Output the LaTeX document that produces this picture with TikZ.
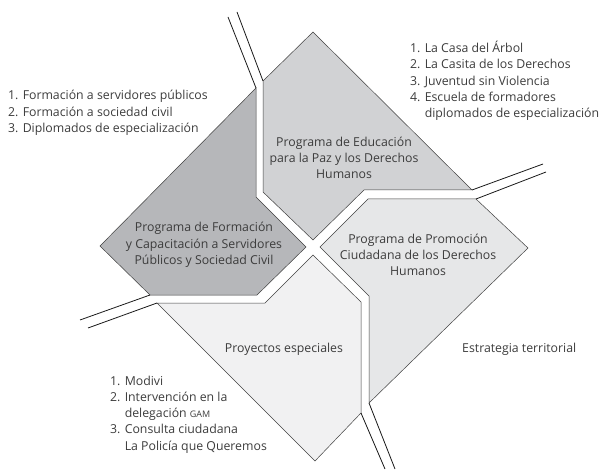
\documentclass[tikz,border=0pt]{standalone}
\usepackage{fontspec}
\setmainfont{Open Sans}
\definecolor{cForm}{HTML}{B6B7BA}
\definecolor{cEdu}{HTML}{D1D2D4}
\definecolor{cProm}{HTML}{E6E7E8}
\definecolor{cProy}{HTML}{F1F1F2}
\definecolor{txt}{HTML}{3C3C3C}
\begin{document}
\begin{tikzpicture}[x=1pt,y=-1pt,
  region/.style={draw=black!75,line width=0.5pt,line join=miter},
  road/.style={draw=black!90,line width=0.8pt},
  lbl/.style={inner sep=0pt,text=txt,font=\fontsize{12.3}{16.3}\selectfont},
  ctr/.style={lbl,align=center},
  lst/.style={lbl,align=left,anchor=west}]
\useasboundingbox (0,0) rectangle (602,470);
% regions
\path[region,fill=cEdu] (263,81) -- (313,32) -- (472,190) -- (364,190) -- (313,240) -- (263,192) -- cycle;
\path[region,fill=cForm] (256,88) -- (256,197) -- (306,247) -- (257,295) -- (150,295) -- (100,246) -- cycle;
\path[region,fill=cProm] (320,247) -- (368,199) -- (476,199) -- (528,248) -- (369,403) -- (369,296) -- cycle;
\path[region,fill=cProy] (313,255) -- (265,303) -- (157,303) -- (315,461) -- (361,413) -- (361,302) -- cycle;
% roads
\coordinate (t1a) at (228,17); \coordinate (t1b) at (256,88);
\coordinate (t2a) at (237,12); \coordinate (t2b) at (263,81);
\coordinate (r1a) at (543,164); \coordinate (r1b) at (472,190);
\coordinate (r2a) at (546,172); \coordinate (r2b) at (476,199);
\coordinate (l1a) at (80,320); \coordinate (l1b) at (150,295);
\coordinate (l2a) at (88,328); \coordinate (l2b) at (157,303);
\coordinate (b1a) at (361,413); \coordinate (b1b) at (385,469);
\coordinate (b2a) at (369,403); \coordinate (b2b) at (395,469);
\draw[road] (t1a) -- (t1b);
\draw[road] (t2a) -- (t2b);
\draw[road] (r1a) -- (r1b);
\draw[road] (r2a) -- (r2b);
\draw[road] (l1a) -- (l1b);
\draw[road] (l2a) -- (l2b);
\draw[road] (b1a) -- (b1b);
\draw[road] (b2a) -- (b2b);
% region labels
\node[ctr] (edu) at (344,158) {Programa de Educación\\para la Paz y los Derechos\\Humanos};
\node[ctr] (form) at (204,245) {Programa de Formación\\y Capacitación a Servidores\\Públicos y Sociedad Civil};
\node[ctr] (prom) at (418,255) {Programa de Promoción\\Ciudadana de los Derechos\\Humanos};
\node[ctr] (proy) at (284,349) {Proyectos especiales};
\node[lbl,anchor=west] (estr) at (462,349) {Estrategia territorial};
% lists
\node[lst] (listF) at (8,113) {1. Formación a servidores públicos\\2. Formación a sociedad civil\\3. Diplomados de especialización};
\node[lst] (listE) at (410,81) {1. La Casa del Árbol\\2. La Casita de los Derechos\\3. Juventud sin Violencia\\4. Escuela de formadores\\\phantom{4. }diplomados de especialización};
\node[lst] (listP) at (110,414.5) {1. Modivi\\2. Intervención en la\\\phantom{2. }delegación {\fontsize{9}{16}\selectfont GAM}\\3. Consulta ciudadana\\\phantom{3. }La Policía que Queremos};
\end{tikzpicture}
\end{document}
